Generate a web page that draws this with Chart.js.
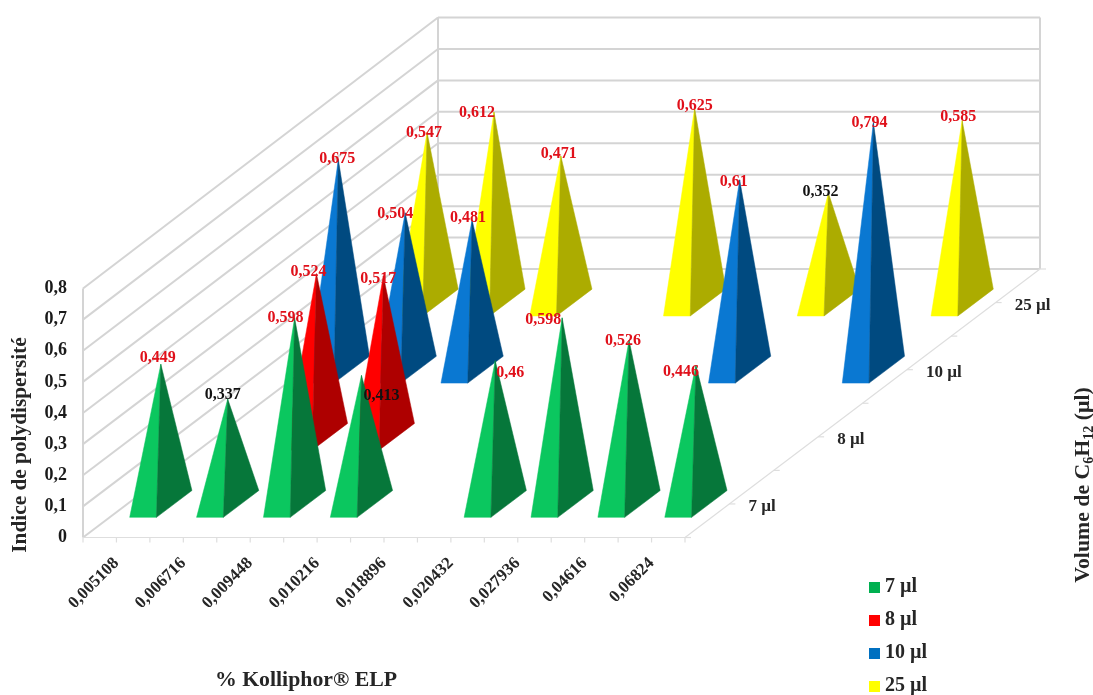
<!DOCTYPE html>
<html lang="fr">
<head>
<meta charset="utf-8">
<title>Indice de polydispersité</title>
<script src="https://cdn.jsdelivr.net/npm/chart.js@4"></script>
<style>html,body{margin:0;padding:0;background:#fff}canvas{display:block}</style>
</head>
<body>
<canvas id="c" width="1093" height="695"></canvas>
<script>
const categories = ['0,005108','0,006716','0,009448','0,010216','0,018896','0,020432','0,027936','0,04616','0,06824'];
const seriesNames = ['7 µl','8 µl','10 µl','25 µl'];
const values7 = [0.449,0.337,0.598,0.413,null,0.46,0.598,0.526,0.446];
const values8 = [null,0.524,0.517,null,null,null,null,null,null];
const values10 = [0.675,0.504,0.481,null,null,null,0.61,null,0.794];
const values25 = [0.547,0.612,0.471,null,0.625,null,0.352,null,0.585];
const legendColors = ['#00b050','#ff0000','#0070c0','#ffff00'];
const leftFaces = ['#0bc75f','#ff0000','#0a78d2','#ffff00'];
const rightFaces = ['#06773a','#ae0000','#004a80','#acac00'];

// label placement relative to each apex
const labelShift = [
  [[-3,-6],[-5,-4],[-9,0],[20,20],null,[15,12],[-19,2],[-6,1],[-15,7]],
  [null,[-8,-2],[-5,3],null,null,null,null,null,null],
  [[-1,-1],[-10,1],[-4,-2],null,null,null,[-6,2],null,[-4,0]],
  [[-3,1],[-17,1],[-2,-2],null,[0,-2],null,[-8,-1],null,[-4,-4]]
];

const SERIF = '"Liberation Serif","Times New Roman",serif';
const DEPTH = {x:355, y:-268.5};
const BACK_WALL_STRETCH = 1.01;
const BAR_RATIO = 0.4;
const WALL = '#d4d4d4';

function poly(ctx, pts, fill){
  ctx.beginPath();
  pts.forEach((p,i)=> i ? ctx.lineTo(p[0],p[1]) : ctx.moveTo(p[0],p[1]));
  ctx.closePath();
  ctx.fillStyle = fill;
  ctx.fill();
  ctx.lineWidth = 0.5;
  ctx.strokeStyle = fill;
  ctx.stroke();
}
function seg(ctx,x1,y1,x2,y2){ctx.beginPath();ctx.moveTo(x1,y1);ctx.lineTo(x2,y2);ctx.stroke();}
function swatch(color){
  const c = document.createElement('canvas');
  c.width = 11; c.height = 11;
  const g = c.getContext('2d');
  g.fillStyle = color;
  g.fillRect(0,0,11,11);
  return c;
}

const walls = {
  id:'walls',
  beforeDatasetsDraw(chart){
    const {ctx, chartArea:a, scales:{y}} = chart;
    const backY = py => a.bottom+DEPTH.y+(py-a.bottom)*BACK_WALL_STRETCH;
    ctx.save();
    ctx.strokeStyle = WALL; ctx.lineWidth = 2;
    y.ticks.forEach(t=>{
      const py = y.getPixelForValue(t.value);
      seg(ctx,a.left,py,a.left+DEPTH.x,backY(py));
      seg(ctx,a.left+DEPTH.x,backY(py),a.right+DEPTH.x,backY(py));
    });
    seg(ctx,a.left,a.top,a.left,a.bottom);
    seg(ctx,a.left+DEPTH.x,backY(a.top),a.left+DEPTH.x,backY(a.bottom));
    seg(ctx,a.right+DEPTH.x,backY(a.top),a.right+DEPTH.x,backY(a.bottom));
    ctx.strokeStyle = '#dedede'; ctx.lineWidth = 1.2;
    seg(ctx,a.left,a.bottom,a.right,a.bottom);
    seg(ctx,a.right,a.bottom,a.right+DEPTH.x,a.bottom+DEPTH.y);
    const step = (a.right-a.left)/categories.length/2;
    for(let i=0;i<=categories.length*2;i++){
      const px = a.left+i*step;
      seg(ctx,px,a.bottom,px,a.bottom+5);
    }
    for(let k=0;k<=seriesNames.length*2;k++){
      const f = k/(seriesNames.length*2);
      const px = a.right+DEPTH.x*f, py = a.bottom+DEPTH.y*f;
      seg(ctx,px,py,px+6,py);
    }
    ctx.restore();
  }
};

const pyramids = {
  id:'pyramids',
  afterDatasetsDraw(chart){
    const {ctx, chartArea:a} = chart;
    const n = seriesNames.length;
    const catW = (a.right-a.left)/categories.length;
    const dvx = DEPTH.x/n, dvy = DEPTH.y/n;
    const hx = catW*BAR_RATIO/2, dx = dvx*BAR_RATIO/2, dy = dvy*BAR_RATIO/2;
    ctx.save();
    for(let k=n-1;k>=0;k--){
      const meta = chart.getDatasetMeta(k);
      const ox = dvx*(k+0.5), oy = dvy*(k+0.5);
      meta.data.forEach(pt=>{
        if(pt.skip) return;
        const cx = pt.x+ox, cy = a.bottom+oy;
        const apex = [cx, pt.y+oy];
        const fl = [cx-hx-dx, cy-dy], fr = [cx+hx-dx, cy-dy], br = [cx+hx+dx, cy+dy];
        poly(ctx,[apex,fl,fr],leftFaces[k]);
        poly(ctx,[apex,fr,br],rightFaces[k]);
      });
    }
    ctx.font = 'bold 16px '+SERIF;
    ctx.textAlign = 'center'; ctx.textBaseline = 'middle';
    for(let k=n-1;k>=0;k--){
      const meta = chart.getDatasetMeta(k);
      const ox = dvx*(k+0.5), oy = dvy*(k+0.5);
      const vals = chart.data.datasets[k].data;
      meta.data.forEach((pt,i)=>{
        if(pt.skip) return;
        const s = labelShift[k][i];
        ctx.fillStyle = vals[i] < 0.42 ? '#111111' : '#e0101a';
        ctx.fillText(String(vals[i]).replace('.',','), pt.x+ox+s[0], pt.y+oy+s[1]);
      });
    }
    ctx.font = 'bold 17px '+SERIF;
    ctx.textAlign = 'left';
    ctx.fillStyle = '#262626';
    seriesNames.forEach((name,k)=>{
      ctx.fillText(name, a.right+dvx*(k+0.5)+19, a.bottom+dvy*(k+0.5)+3);
    });
    ctx.font = 'bold 21.8px '+SERIF;
    ctx.textAlign = 'center';
    ctx.fillStyle = '#262626';
    ctx.fillText('% Kolliphor® ELP', 306, 680);
    ctx.save();
    ctx.font = 'bold 21.3px '+SERIF;
    ctx.translate(20,445); ctx.rotate(-Math.PI/2);
    ctx.fillText('Indice de polydispersité',0,0);
    ctx.restore();
    ctx.save();
    ctx.translate(1083,485); ctx.rotate(-Math.PI/2);
    const parts = [['Volume de C',0],['6',1],['H',0],['12',1],[' (µl)',0]];
    const fontOf = sub => (sub ? 'bold 14px ' : 'bold 21.8px ')+SERIF;
    let total = 0;
    parts.forEach(p=>{ctx.font=fontOf(p[1]); total+=ctx.measureText(p[0]).width;});
    let cur = -total/2;
    ctx.textAlign = 'left';
    parts.forEach(p=>{
      ctx.font = fontOf(p[1]);
      ctx.fillText(p[0],cur,p[1]?6:0);
      cur += ctx.measureText(p[0]).width;
    });
    ctx.restore();
    ctx.restore();
  }
};

const legendPlacer = {
  id:'legendPlacer',
  afterLayout(chart){
    const l = chart.legend;
    if(!l) return;
    const ddx = 861-l.left, ddy = 564-l.top;
    l.left+=ddx; l.right=l.left+120; l.top+=ddy; l.bottom=l.top+200;
    (l.legendHitBoxes||[]).forEach(b=>{b.left+=ddx;b.top+=ddy;});
  }
};

new Chart(document.getElementById('c'),{
  type:'line',
  data:{
    labels:categories,
    datasets:[values7,values8,values10,values25].map((d,k)=>({
      label:seriesNames[k],
      data:d,
      showLine:false,
      pointRadius:0,
      pointStyle:swatch(legendColors[k]),
      backgroundColor:legendColors[k],
      borderColor:legendColors[k],
      borderWidth:0
    }))
  },
  plugins:[walls,pyramids,legendPlacer],
  options:{
    responsive:false,
    animation:false,
    layout:{padding:{left:0,top:288.5,right:408,bottom:0}},
    plugins:{
      tooltip:{enabled:false},
      title:{display:false},
      legend:{
        display:true,
        position:'chartArea',
        align:'start',
        labels:{
          usePointStyle:true,
          boxWidth:1,boxHeight:11,padding:13,
          color:'#262626',
          font:{family:SERIF,size:20,weight:'bold',lineHeight:1.2}
        }
      }
    },
    scales:{
      x:{
        type:'category',
        offset:true,
        grid:{display:false},
        border:{display:false},
        afterFit(s){s.height=157.5;},
        ticks:{
          autoSkip:false,minRotation:45,maxRotation:45,padding:8,
          color:'#262626',
          font:{family:SERIF,size:17,weight:'bold'}
        }
      },
      y:{
        min:0,max:0.8,
        grid:{display:false,drawTicks:false},
        border:{display:false},
        afterFit(s){s.width=83;},
        ticks:{
          stepSize:0.1,padding:16,
          color:'#1a1a1a',
          font:{family:SERIF,size:18,weight:'bold'},
          callback:v=>String(Math.round(v*10)/10).replace('.',',')
        }
      }
    }
  }
});
</script>
</body>
</html>
